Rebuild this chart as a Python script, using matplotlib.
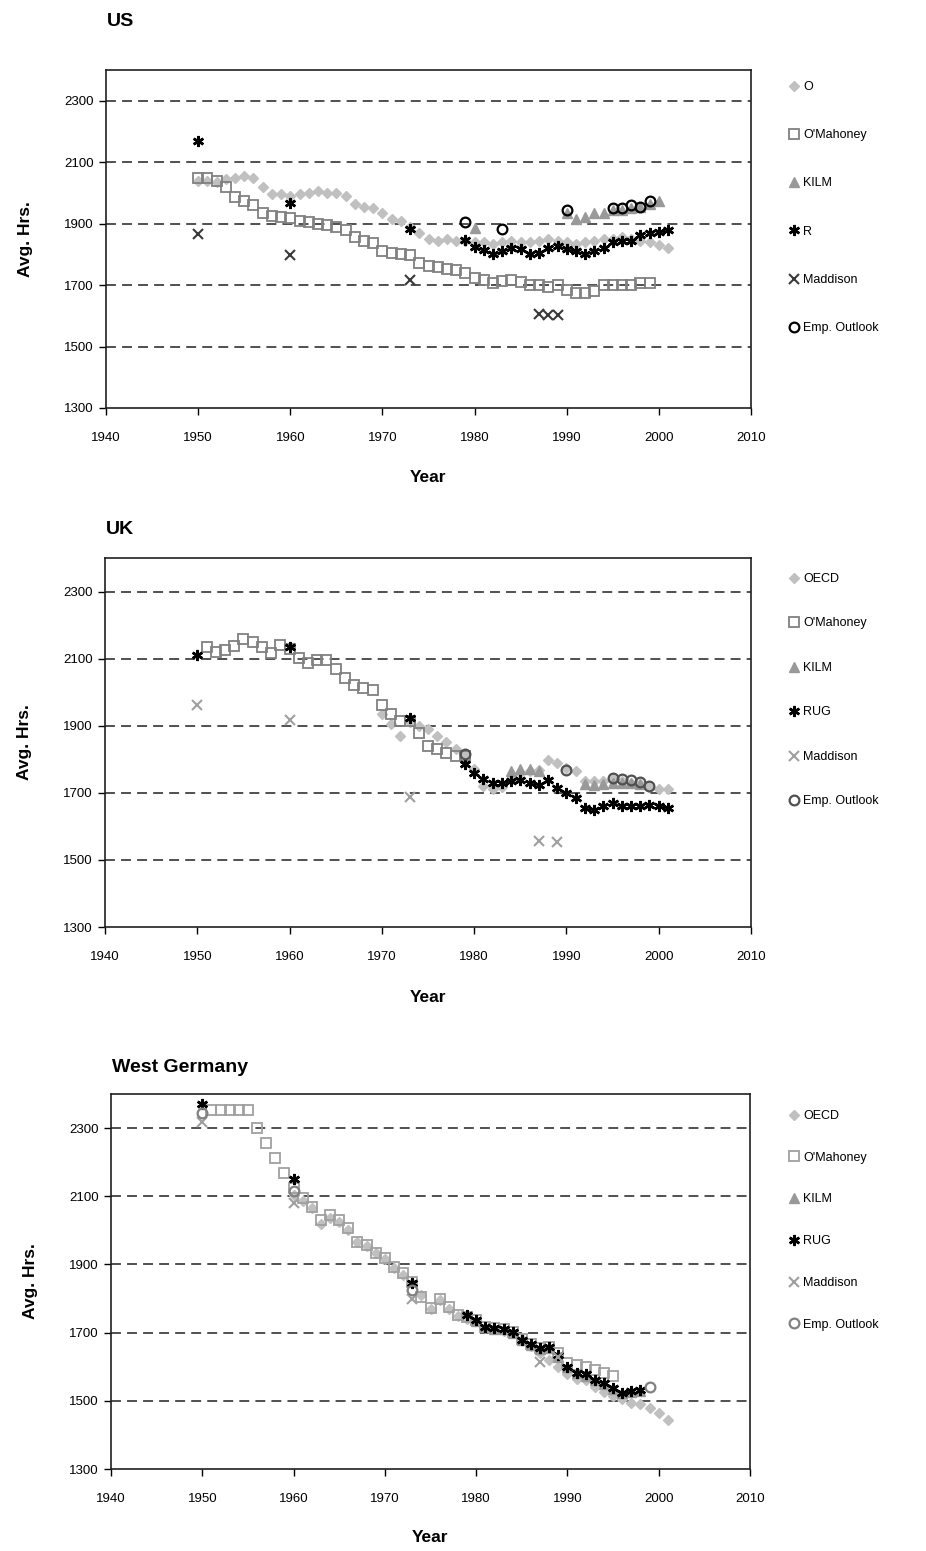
import numpy as np
import matplotlib
matplotlib.use("Agg")
import matplotlib.pyplot as plt

plt.rcParams['font.family'] = ['Liberation Sans', 'DejaVu Sans']

# ---------------- US ----------------
us_oecd_years = list(range(1950, 2002))
us_oecd = [2040, 2040, 2035, 2045, 2050, 2055, 2050, 2020, 1995, 1995,
           1990, 1995, 2000, 2005, 2000, 2000, 1990, 1965, 1955, 1950,
           1935, 1915, 1910, 1890, 1870, 1850, 1845, 1850, 1845, 1845,
           1840, 1840, 1835, 1840, 1845, 1840, 1840, 1845, 1850, 1845,
           1840, 1835, 1840, 1845, 1850, 1850, 1855, 1850, 1845, 1840,
           1830, 1820]
us_omah_years = list(range(1950, 2000))
us_omah = [2050, 2048, 2040, 2018, 1988, 1975, 1960, 1935, 1925, 1920,
           1918, 1910, 1905, 1900, 1895, 1890, 1880, 1855, 1842, 1836,
           1810, 1805, 1800, 1798, 1772, 1762, 1758, 1752, 1748, 1740,
           1722, 1717, 1706, 1712, 1718, 1710, 1701, 1700, 1695, 1700,
           1684, 1675, 1675, 1680, 1700, 1700, 1700, 1700, 1706, 1708]
us_kilm_years = [1980, 1990, 1991, 1992, 1993, 1994, 1995, 1996, 1997, 1998, 1999, 2000]
us_kilm = [1885, 1935, 1915, 1920, 1935, 1935, 1945, 1945, 1950, 1955, 1965, 1975]
us_rug_years = [1950, 1960, 1973] + list(range(1979, 2002))
us_rug = [2168, 1968, 1883,
          1847, 1825, 1815, 1800, 1810, 1822, 1818, 1800, 1805, 1822, 1828,
          1818, 1810, 1800, 1812, 1822, 1840, 1842, 1845, 1862, 1868, 1874, 1880]
us_madd_years = [1950, 1960, 1973, 1987, 1988, 1989]
us_madd = [1865, 1798, 1717, 1605, 1603, 1603]
us_emp_years = [1979, 1983, 1990, 1995, 1996, 1997, 1998, 1999]
us_emp = [1905, 1883, 1943, 1950, 1950, 1960, 1955, 1975]

# ---------------- UK ----------------
uk_oecd_years = list(range(1970, 2002))
uk_oecd = [1935, 1905, 1868, 1910, 1900, 1890, 1870, 1850, 1830, 1815,
           1770, 1720, 1712, 1718, 1740, 1760, 1765, 1768, 1798, 1789,
           1775, 1764, 1735, 1735, 1735, 1740, 1735, 1730, 1725, 1718,
           1712, 1710]
uk_omah_years = list(range(1951, 1980))
uk_omah = [2135, 2120, 2125, 2137, 2158, 2150, 2135, 2118, 2140, 2130,
           2102, 2088, 2097, 2097, 2068, 2042, 2022, 2012, 2007, 1963,
           1935, 1915, 1915, 1878, 1840, 1830, 1820, 1810, 1810]
uk_kilm_years = [1984, 1985, 1986, 1987, 1992, 1993, 1994, 1995, 1996, 1997, 1998]
uk_kilm = [1765, 1770, 1772, 1765, 1725, 1722, 1725, 1730, 1728, 1730, 1725]
uk_rug_years = [1950, 1960, 1973] + list(range(1979, 2002))
uk_rug = [2112, 2135, 1922,
          1785, 1760, 1740, 1730, 1730, 1734, 1739, 1730, 1724, 1739, 1715,
          1700, 1685, 1655, 1650, 1660, 1670, 1660, 1660, 1662, 1665, 1660, 1655]
uk_madd_years = [1950, 1960, 1973, 1987, 1989]
uk_madd = [1963, 1918, 1687, 1557, 1552]
uk_emp_years = [1979, 1990, 1995, 1996, 1997, 1998, 1999]
uk_emp = [1815, 1769, 1745, 1740, 1739, 1733, 1720]

# ---------------- West Germany ----------------
wg_oecd_years = list(range(1960, 2002))
wg_oecd = [2105, 2085, 2065, 2020, 2035, 2025, 2000, 1965, 1955, 1935,
           1915, 1890, 1870, 1845, 1810, 1770, 1795, 1770, 1750, 1740,
           1735, 1715, 1710, 1705, 1700, 1680, 1660, 1640, 1620, 1600,
           1580, 1565, 1560, 1540, 1525, 1515, 1505, 1495, 1490, 1480,
           1463, 1444]
wg_omah_years = list(range(1951, 1996))
wg_omah = [2353, 2353, 2352, 2352, 2352, 2300, 2256, 2211, 2167, 2123,
           2094, 2069, 2030, 2045, 2030, 2006, 1967, 1957, 1933, 1918,
           1893, 1874, 1850, 1806, 1771, 1800, 1776, 1752, 1745, 1737,
           1717, 1713, 1710, 1703, 1680, 1668, 1656, 1658, 1640, 1612,
           1605, 1600, 1590, 1582, 1572]
wg_kilm_years = list(range(1980, 1999))
wg_kilm = [1735, 1717, 1712, 1710, 1700, 1678, 1665, 1652, 1655, 1630,
           1598, 1582, 1572, 1560, 1550, 1535, 1522, 1525, 1530]
wg_rug_years = [1950, 1960, 1973] + list(range(1979, 1999))
wg_rug = [2372, 2150, 1846,
          1752, 1737, 1717, 1713, 1712, 1703, 1678, 1667, 1654, 1659, 1634,
          1600, 1581, 1578, 1561, 1551, 1537, 1522, 1528, 1532]
wg_madd_years = [1950, 1960, 1973, 1987, 1989]
wg_madd = [2318, 2079, 1800, 1615, 1628]
wg_emp_years = [1950, 1960, 1973, 1999]
wg_emp = [2345, 2115, 1825, 1541]

panels = [
    dict(title="US", rect=[106 / 926, 1 - 408 / 1551, 645 / 926, 338 / 1551],
         title_y=1 - 22 / 1551, xlabel_y=1 - 478 / 1551,
         leg_top=1 - 81 / 1551, leg_space=2.9,
         labels=["O", "O'Mahoney", "KILM", "R", "Maddison", "Emp. Outlook"],
         data=[(us_oecd_years, us_oecd), (us_omah_years, us_omah),
               (us_kilm_years, us_kilm), (us_rug_years, us_rug),
               (us_madd_years, us_madd), (us_emp_years, us_emp)],
         madd_color="#3a3a3a", emp_color="#000000", omah_color="#808080"),
    dict(title="UK", rect=[105 / 926, 1 - 927 / 1551, 646 / 926, 369 / 1551],
         title_y=1 - 530 / 1551, xlabel_y=1 - 998 / 1551,
         leg_top=1 - 573 / 1551, leg_space=2.6,
         labels=["OECD", "O'Mahoney", "KILM", "RUG", "Maddison", "Emp. Outlook"],
         data=[(uk_oecd_years, uk_oecd), (uk_omah_years, uk_omah),
               (uk_kilm_years, uk_kilm), (uk_rug_years, uk_rug),
               (uk_madd_years, uk_madd), (uk_emp_years, uk_emp)],
         madd_color="#a0a0a0", emp_color="#505050", omah_color="#808080"),
    dict(title="West Germany", rect=[111 / 926, 1 - 1469 / 1551, 639 / 926, 375 / 1551],
         title_y=1 - 1067 / 1551, xlabel_y=1 - 1538 / 1551,
         leg_top=1 - 1110 / 1551, leg_space=2.38,
         labels=["OECD", "O'Mahoney", "KILM", "RUG", "Maddison", "Emp. Outlook"],
         data=[(wg_oecd_years, wg_oecd), (wg_omah_years, wg_omah),
               (wg_kilm_years, wg_kilm), (wg_rug_years, wg_rug),
               (wg_madd_years, wg_madd), (wg_emp_years, wg_emp)],
         madd_color="#a0a0a0", emp_color="#808080", omah_color="#a0a0a0"),
]

fig = plt.figure(figsize=(9.26, 15.51), dpi=100)

for p in panels:
    ax = fig.add_axes(p["rect"])
    (x0, y0), (x1, y1), (x2, y2), (x3, y3), (x4, y4), (x5, y5) = p["data"]
    h = []
    h += ax.plot(x0, y0, ls="none", marker="D", ms=5.2, color="#c0c0c0", mec="#c0c0c0")
    h += ax.plot(x1, y1, ls="none", marker="s", ms=7, mfc="none", mec=p["omah_color"], mew=1.3)
    h += ax.plot(x2, y2, ls="none", marker="^", ms=7, color="#999999", mec="#999999")
    h += ax.plot(x3, y3, ls="none", marker=(6, 2, 0), ms=8, color="black", mew=1.8)
    h += ax.plot(x4, y4, ls="none", marker="x", ms=7, color=p["madd_color"], mew=1.5)
    h += ax.plot(x5, y5, ls="none", marker="o", ms=7, mfc="none", mec=p["emp_color"], mew=1.6)

    ax.set_xlim(1940, 2010)
    ax.set_ylim(1300, 2400)
    ax.set_xticks(range(1940, 2011, 10))
    ax.set_yticks(range(1300, 2301, 200))
    for yv in range(1500, 2301, 200):
        ax.axhline(yv, color="#202020", lw=1.1, ls=(0, (6.5, 4)), zorder=0)
    ax.tick_params(axis="y", direction="out", length=5, width=1, labelsize=9.5, pad=4)
    ax.tick_params(axis="x", direction="out", length=5, width=1, labelsize=9.5, pad=12)
    for s in ax.spines.values():
        s.set_linewidth(1.2)
        s.set_color("#202020")

    fig.text(p["rect"][0] + 1 / 926, p["title_y"], p["title"], fontsize=14,
             fontweight="bold", va="center", ha="left")
    fig.text(p["rect"][0] + p["rect"][2] / 2, p["xlabel_y"], "Year",
             fontsize=12.5, fontweight="bold", va="center", ha="center")
    ax.set_ylabel("Avg. Hrs.", fontsize=12.5, fontweight="bold", labelpad=22)

    ax.legend(h, p["labels"], loc="upper left",
              bbox_to_anchor=(790 / 926, p["leg_top"]), bbox_transform=fig.transFigure,
              frameon=False, fontsize=9, handlelength=0.7, handletextpad=0.35,
              labelspacing=p["leg_space"], borderpad=0, borderaxespad=0,
              numpoints=1, markerscale=1.0)

fig.savefig("out.png", dpi=100)
